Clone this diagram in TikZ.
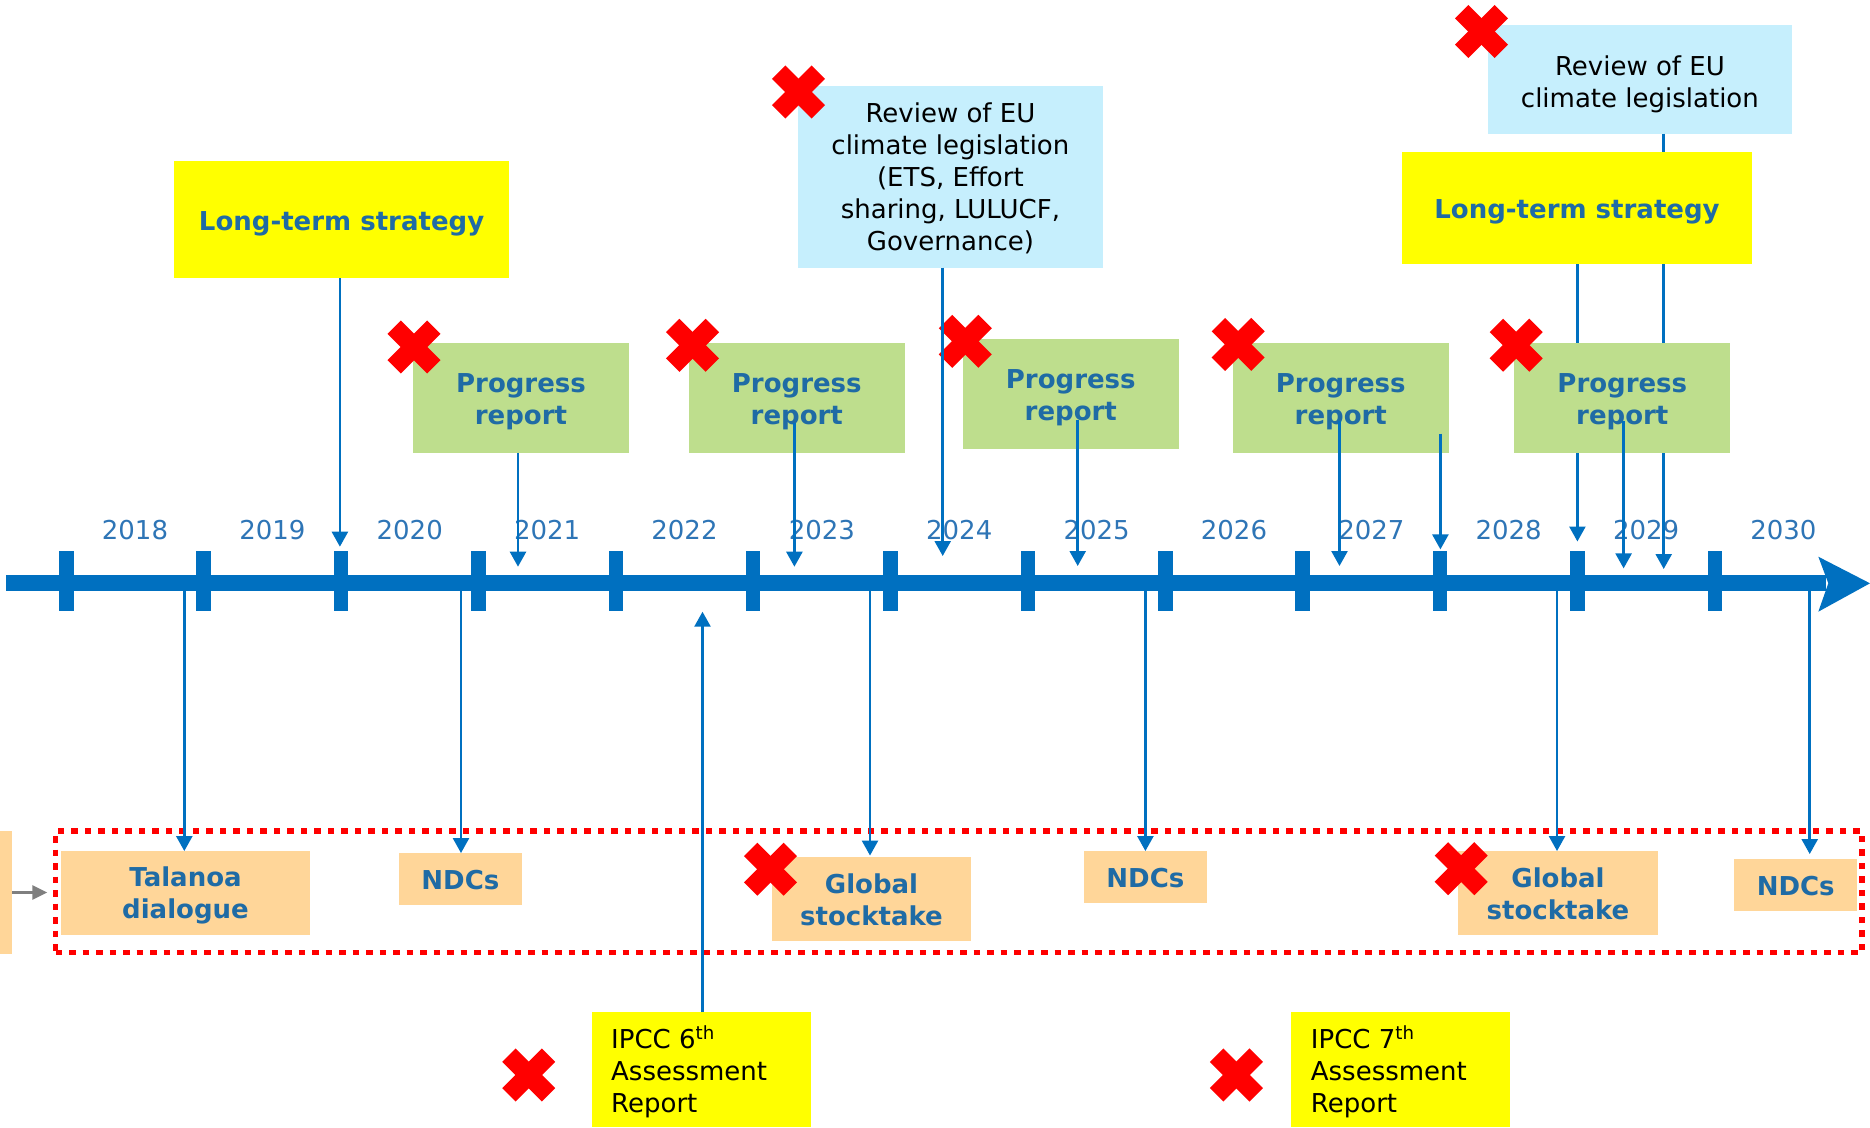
\documentclass[tikz,border=0pt]{standalone}
\usepackage{fontspec}
\setmainfont{DejaVu Sans}
\usetikzlibrary{arrows.meta}
\definecolor{axisblue}{HTML}{0070C0}
\definecolor{yeartext}{HTML}{2E75B6}
\definecolor{boxtext}{HTML}{1F6BA5}
\definecolor{prgreen}{HTML}{BEDE8D}
\definecolor{revcyan}{HTML}{C6EFFD}
\definecolor{peach}{HTML}{FFD699}
\definecolor{ipccyellow}{HTML}{FFFF00}
\definecolor{xred}{HTML}{FF0000}
\definecolor{arrowgrey}{HTML}{7F7F7F}
\newcommand{\liftline}[1]{\rule{0pt}{#1pt}}
\begin{document}
\begin{tikzpicture}[x=1pt,y=-1pt,
  wh/.style 2 args={minimum width=#1pt, minimum height=#2pt},
  box/.style={inner sep=0pt, outer sep=0pt, align=center, font=\fontsize{26}{32}\selectfont},
  boldbox/.style={box, font=\fontsize{26}{32}\selectfont\bfseries, text=boxtext},
  ltsbox/.style={boldbox, fill=ipccyellow},
  prbox/.style={boldbox, fill=prgreen, wh={216}{109.7}},
  revbox/.style={box, fill=revcyan, text=black},
  ufccbox/.style={boldbox, fill=peach},
  ipccbox/.style={box, fill=ipccyellow, text=black, align=left, wh={219}{115}},
  yearlabel/.style={inner sep=0pt, font=\fontsize{26}{32}\selectfont, text=yeartext},
  conn/.style={draw=axisblue, line width=2.5pt, -{Triangle[width=16pt,length=15pt]}},
  greyconn/.style={draw=arrowgrey, line width=2.7pt, -{Triangle[width=14pt,length=15pt]}},
  redx/.pic={
    \fill[xred, rotate=45] (-28,-9.5) -- (28,-9.5) -- (28,9.5) -- (-28,9.5) -- cycle;
    \fill[xred, rotate=-45] (-28,-9.5) -- (28,-9.5) -- (28,9.5) -- (-28,9.5) -- cycle;
  }
]
\useasboundingbox (0,0) rectangle (1870,1127);

% ---------- axis ----------
\node[fill=axisblue, inner sep=0pt, wh={1820.5}{16}] (axis) at (915.75,583) {};
\fill[axisblue] (1818.3,556.7) -- (1870,583.3) -- (1818.3,611.7) -- (1828.3,583.3) -- cycle;
\foreach \i in {0,...,12} {
  \fill[axisblue] ({66.3+137.37*\i-7.25},551) rectangle ++(14.5,60);
}
\foreach \yr [count=\i from 0] in {2018,...,2030} {
  \node[yearlabel] (yr\yr) at ({66.3+137.37*\i+68.7},530) {\yr};
}

% ---------- upper boxes (some connectors run behind later boxes) ----------
\node[revbox, wh={304.8}{108.6}] (revtop) at (1639.9,79.3) {\liftline{29.4}Review of EU\\climate legislation};
\coordinate (tipRevT) at (1663.7,569);
\draw[conn] (tipRevT |- revtop.south) -- (tipRevT);

\node[ltsbox, wh={350}{112.6}] (lts2) at (1577,208.1) {\liftline{27}Long-term strategy};
\coordinate (tipLtsB) at (1577.4,541.5);
\draw[conn] (tipLtsB |- lts2.south) -- (tipLtsB);

\node[ltsbox, wh={335}{117}] (lts1) at (341.6,219.5) {\liftline{27}Long-term strategy};
\node[revbox, wh={304.7}{182}] (revmid) at (950.4,176.7) {\liftline{23.5}Review of EU\\climate legislation\\(ETS, Effort\\sharing, LULUCF,\\Governance)};

\node[prbox] (pr1) at (521,397.9) {\liftline{27}Progress\\report};
\node[prbox] (pr2) at (796.8,397.9) {\liftline{27}Progress\\report};
\node[prbox] (pr3) at (1070.8,393.9) {\liftline{27}Progress\\report};
\node[prbox] (pr4) at (1340.8,397.7) {\liftline{27}Progress\\report};
\node[prbox] (pr5) at (1622.3,397.7) {\liftline{27}Progress\\report};

% ---------- bottom group ----------
\node[fill=peach, inner sep=0pt, wh={12}{123}] (leftpeach) at (6,892.5) {};
\node[draw=xred, line width=5.5pt, dash pattern=on 6.5pt off 7pt, inner sep=0pt, wh={1806.5}{121.5}] (grp) at (958.75,891.75) {};
\node[ufccbox, wh={249}{83.7}] (talanoa) at (185.5,892.9) {\liftline{24}Talanoa\\dialogue};
\node[ufccbox, wh={122.7}{51.7}] (ndc1) at (460.4,878.9) {\liftline{21}NDCs};
\node[ufccbox, wh={199.6}{83.7}] (gs1) at (871.5,898.9) {\liftline{21}Global\\stocktake};
\node[ufccbox, wh={123.2}{51.7}] (ndc2) at (1145.4,876.9) {\liftline{21}NDCs};
\node[ufccbox, wh={200.4}{83.7}] (gs2) at (1558,892.9) {\liftline{21}Global\\stocktake};
\node[ufccbox, wh={123.4}{51.7}] (ndc3) at (1795.7,884.9) {\liftline{21}NDCs};

\node[ipccbox] (ipcc6) at (701.2,1069.5) {\liftline{28}IPCC 6\textsuperscript{th}\\\makebox[180pt][l]{Assessment}\\Report};
\node[ipccbox] (ipcc7) at (1400.9,1069.5) {\liftline{28}IPCC 7\textsuperscript{th}\\\makebox[180pt][l]{Assessment}\\Report};

% ---------- red crosses ----------
\pic at (414,347) {redx};
\pic at (692.5,345.3) {redx};
\pic at (965.3,341.3) {redx};
\pic at (1238.2,344.4) {redx};
\pic at (1516.2,345.2) {redx};
\pic at (798.5,92) {redx};
\pic at (1481.5,31.5) {redx};
\pic at (770.5,869.2) {redx};
\pic at (1461.2,868.7) {redx};
\pic at (528.7,1075) {redx};
\pic at (1236.4,1075) {redx};

% ---------- arrows to the axis ----------
\coordinate (tipLtsA) at (339.9,546.7);
\draw[conn] (tipLtsA |- lts1.south) -- (tipLtsA);
\coordinate (tipPr1) at (518,566.7);
\draw[conn] (tipPr1 |- pr1.south) -- (tipPr1);
\coordinate (startPr2) at (794.4,423);
\coordinate (tipPr2) at (794.4,566.7);
\draw[conn] (startPr2) -- (tipPr2);
\coordinate (tipRevM) at (942.7,556);
\draw[conn] (tipRevM |- revmid.south) -- (tipRevM);
\coordinate (startPr3) at (1077.7,420);
\coordinate (tipPr3) at (1077.7,566);
\draw[conn] (startPr3) -- (tipPr3);
\coordinate (startPr4) at (1339.5,421);
\coordinate (tipPr4) at (1339.5,566);
\draw[conn] (startPr4) -- (tipPr4);
\coordinate (startFree) at (1440.4,433.6);
\coordinate (tipFree) at (1440.4,549.4);
\draw[conn] (startFree) -- (tipFree);
\coordinate (startPr5) at (1623.6,421);
\coordinate (tipPr5) at (1623.6,568.4);
\draw[conn] (startPr5) -- (tipPr5);

% ---------- arrows from the axis ----------
\coordinate (dTal) at (184.3,591);
\draw[conn] (dTal) -- (dTal |- talanoa.north);
\coordinate (dNdc1) at (461,591);
\draw[conn] (dNdc1) -- (dNdc1 |- ndc1.north);
\coordinate (dGs1) at (870,591);
\draw[conn, shorten >=1.5pt] (dGs1) -- (dGs1 |- gs1.north);
\coordinate (dNdc2) at (1145.4,591);
\draw[conn] (dNdc2) -- (dNdc2 |- ndc2.north);
\coordinate (dGs2) at (1557,591);
\draw[conn] (dGs2) -- (dGs2 |- gs2.north);
\coordinate (dNdc3) at (1809.7,591);
\draw[conn, shorten >=5pt] (dNdc3) -- (dNdc3 |- ndc3.north);
\coordinate (uIpcc) at (702.5,611.7);
\draw[conn] (uIpcc |- ipcc6.north) -- (uIpcc);

% ---------- grey arrow ----------
\draw[greyconn, shorten >=5.5pt] (leftpeach.east) -- (leftpeach.east -| grp.west);
\end{tikzpicture}
\end{document}
